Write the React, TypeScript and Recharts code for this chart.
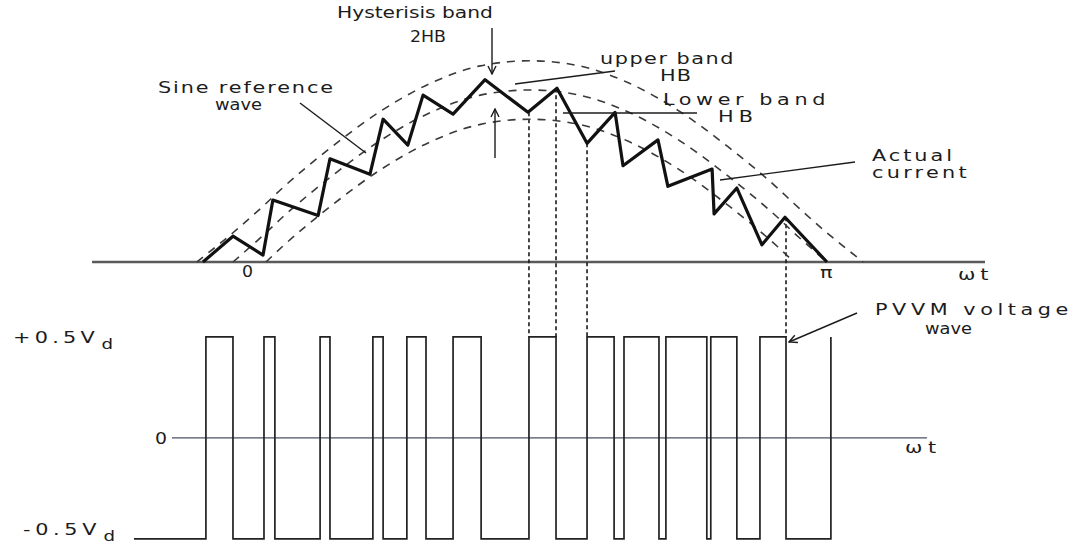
import { ComposedChart, Line, XAxis, YAxis, ReferenceLine } from "recharts";

// angle in degrees of wt, current in units of the sine peak
const bandAngles = [-11, 0, 10, 15, 30, 45, 60, 75, 90, 105, 120, 135, 150, 165, 170, 180, 191];
const sineRef = [null, 0, 0.17, 0.26, 0.5, 0.71, 0.87, 0.97, 1, 0.97, 0.87, 0.71, 0.5, 0.26, 0.17, 0, null];
const upperBand = [0, 0.17, 0.34, 0.43, 0.67, 0.88, 1.04, 1.14, 1.17, 1.14, 1.04, 0.88, 0.67, 0.43, 0.34, 0.17, 0];
const lowerBand = [null, null, 0, 0.09, 0.33, 0.54, 0.7, 0.8, 0.83, 0.8, 0.7, 0.54, 0.33, 0.09, 0, null, null];

const currentAngles = [-9.1, 0, 9.1, 12.1, 25.8, 29.4, 41.5, 45.5, 53, 57.6, 66.7, 76.4, 89.4, 98.2, 107.3, 115.8, 118.2, 128.8, 131.8, 145.2, 145.8, 152.7, 160.3, 167.3, 180];
const currentValues = [0, 0.15, 0.04, 0.36, 0.27, 0.6, 0.51, 0.83, 0.68, 0.97, 0.86, 1.06, 0.87, 1.01, 0.69, 0.87, 0.56, 0.71, 0.44, 0.54, 0.28, 0.43, 0.1, 0.26, 0];

// PWM switching instants (deg) and the level that starts there (x Vd)
const pwmAngles = [-30, -8.2, 0, 9.4, 12.7, 26.4, 29.4, 42.4, 45.5, 52.7, 58.5, 66.7, 75.2, 89.7, 97.9, 107.3, 115.5, 118.5, 129.1, 131.2, 143.6, 144.8, 152.7, 159.7, 167.6, 181.2];
const pwmLevels = [-0.5, 0.5, -0.5, 0.5, -0.5, 0.5, -0.5, 0.5, -0.5, 0.5, -0.5, 0.5, -0.5, 0.5, -0.5, 0.5, -0.5, 0.5, -0.5, 0.5, -0.5, 0.5, -0.5, 0.5, -0.5, 0.5];

// edges that are projected from the current with dotted lines
const linkedEdges = [89.7, 97.9, 107.3, 167.6];

const W = 1083;
const H = 545;
const X_DOMAIN: [number, number] = [-70.6, 257.6];
const I_DOMAIN: [number, number] = [-1.645, 1.523];
const V_DOMAIN: [number, number] = [-0.53, 2.168];

const bandData = bandAngles.map((t, k) => ({
  t,
  ref: sineRef[k],
  upper: upperBand[k],
  lower: lowerBand[k],
}));
const currentData = currentAngles.map((t, k) => ({ t, i: currentValues[k] }));
const pwmData = pwmAngles.map((t, k) => ({ t, v: pwmLevels[k] }));

// current value -> same height on the voltage axis
const iToV = (i: number) =>
  V_DOMAIN[1] - ((I_DOMAIN[1] - i) * (V_DOMAIN[1] - V_DOMAIN[0])) / (I_DOMAIN[1] - I_DOMAIN[0]);

const nearestCurrent = (t: number) => {
  let best = 0;
  currentAngles.forEach((a, k) => {
    if (Math.abs(a - t) < Math.abs(currentAngles[best] - t)) best = k;
  });
  return currentValues[best];
};

type Label = { s: string; x: number; y: number; w: number; sub?: string };

const labels: Label[] = [
  { s: "Hysterisis band", x: 337, y: 18, w: 156 },
  { s: "2HB", x: 410, y: 42, w: 36 },
  { s: "upper band", x: 600, y: 64, w: 135 },
  { s: "HB", x: 660, y: 81, w: 32 },
  { s: "Sine reference", x: 158, y: 93, w: 177 },
  { s: "wave", x: 215, y: 110, w: 47 },
  { s: "Lower band", x: 663, y: 105, w: 167 },
  { s: "HB", x: 718, y: 122, w: 40 },
  { s: "Actual", x: 872, y: 161, w: 83 },
  { s: "current", x: 872, y: 178, w: 98 },
  { s: "ωt", x: 958, y: 280, w: 35 },
  { s: "0", x: 242, y: 277, w: 11 },
  { s: "π", x: 820, y: 278, w: 14 },
  { s: "PVVM voltage", x: 875, y: 315, w: 198 },
  { s: "wave", x: 925, y: 334, w: 47 },
  { s: "ωt", x: 905, y: 453, w: 37 },
  { s: "0", x: 155, y: 444, w: 12 },
  { s: "+0.5V", x: 13, y: 343, w: 86, sub: "d" },
  { s: "-0.5V", x: 23, y: 535, w: 78, sub: "d" },
];

const leaders = [
  { x1: 492, y1: 28, x2: 492, y2: 74, arrow: true },
  { x1: 495, y1: 158, x2: 495, y2: 109, arrow: true },
  { x1: 615, y1: 71, x2: 515, y2: 84, arrow: false },
  { x1: 300, y1: 103, x2: 366, y2: 153, arrow: false },
  { x1: 563, y1: 113, x2: 697, y2: 113, arrow: false },
  { x1: 720, y1: 180, x2: 855, y2: 162, arrow: false },
  { x1: 857, y1: 313, x2: 789, y2: 342, arrow: true },
];

const ink = "#1c1c1c";
const fontSize = 16;
const fontName = "DejaVu Sans";

// the figure's lettering is wide: stretch glyphs a little, then space them
let ctx: CanvasRenderingContext2D | null = null;
const fitLabel = (s: string, w: number) => {
  if (!ctx) ctx = document.createElement("canvas").getContext("2d");
  if (!ctx) return { sx: 1, ls: 0 };
  ctx.font = `${fontSize}px "${fontName}"`;
  const natural = ctx.measureText(s).width;
  const sx = Math.min(Math.max(w / natural, 1), 1.3);
  const ls = Math.max(0, (w - natural * sx) / (s.length * sx));
  return { sx, ls };
};

export default function App() {
  return (
    <div style={{ position: "absolute", left: 0, top: 0, width: W, height: H, background: "#fff" }}>
      <ComposedChart width={W} height={H} margin={{ top: 0, right: 0, bottom: 0, left: 0 }}>
        <XAxis dataKey="t" type="number" domain={X_DOMAIN} allowDataOverflow hide />
        <YAxis yAxisId="i" type="number" domain={I_DOMAIN} allowDataOverflow hide />
        <YAxis yAxisId="v" type="number" domain={V_DOMAIN} allowDataOverflow hide />

        <ReferenceLine
          yAxisId="i"
          segment={[{ x: -42.7, y: 0 }, { x: 227.9, y: 0 }]}
          stroke="#5a5a5a"
          strokeWidth={2.5}
        />
        <ReferenceLine
          yAxisId="v"
          segment={[{ x: -18.5, y: 0 }, { x: 210.3, y: 0 }]}
          stroke="#4a5060"
          strokeWidth={1.3}
        />

        {linkedEdges.map((t) => (
          <ReferenceLine
            key={t}
            yAxisId="v"
            segment={[{ x: t, y: iToV(nearestCurrent(t)) }, { x: t, y: 0.5 }]}
            stroke={ink}
            strokeWidth={1.6}
            strokeDasharray="4 3"
          />
        ))}

        <Line data={bandData} yAxisId="i" dataKey="upper" type="monotone" stroke="#3a3a3a" strokeWidth={1.6} strokeDasharray="8 7" dot={false} activeDot={false} isAnimationActive={false} />
        <Line data={bandData} yAxisId="i" dataKey="ref" type="monotone" stroke="#3a3a3a" strokeWidth={1.6} strokeDasharray="8 7" dot={false} activeDot={false} isAnimationActive={false} />
        <Line data={bandData} yAxisId="i" dataKey="lower" type="monotone" stroke="#3a3a3a" strokeWidth={1.6} strokeDasharray="8 7" dot={false} activeDot={false} isAnimationActive={false} />

        <Line data={currentData} yAxisId="i" dataKey="i" type="linear" stroke="#111" strokeWidth={3.2} strokeLinejoin="round" dot={false} activeDot={false} isAnimationActive={false} />

        <Line data={pwmData} yAxisId="v" dataKey="v" type="stepAfter" stroke="#222" strokeWidth={1.7} dot={false} activeDot={false} isAnimationActive={false} />
      </ComposedChart>

      <svg
        width={W}
        height={H}
        style={{ position: "absolute", left: 0, top: 0, pointerEvents: "none" }}
      >
        <defs>
          <marker id="ah" markerWidth={10} markerHeight={10} refX={9} refY={5} orient="auto" markerUnits="userSpaceOnUse">
            <path d="M1,1 L9,5 L1,9" fill="none" stroke={ink} strokeWidth={1.4} />
          </marker>
        </defs>
        {leaders.map((l, k) => (
          <line
            key={k}
            x1={l.x1}
            y1={l.y1}
            x2={l.x2}
            y2={l.y2}
            stroke={ink}
            strokeWidth={1.4}
            markerEnd={l.arrow ? "url(#ah)" : undefined}
          />
        ))}
        {labels.map((l, k) => {
          const { sx, ls } = fitLabel(l.s, l.w);
          return (
            <text
              key={k}
              transform={`translate(${l.x},${l.y}) scale(${sx.toFixed(3)},1)`}
              fontFamily={fontName}
              fontSize={fontSize}
              fill={ink}
            >
              <tspan style={{ letterSpacing: `${ls.toFixed(2)}px` }}>{l.s}</tspan>
              {l.sub && (
                <tspan dx={2} dy={6} fontSize={14} style={{ letterSpacing: "0px" }}>
                  {l.sub}
                </tspan>
              )}
            </text>
          );
        })}
      </svg>
    </div>
  );
}
